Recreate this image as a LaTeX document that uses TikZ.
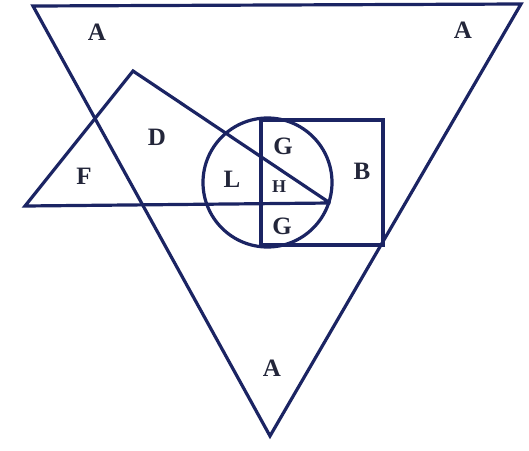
\documentclass[tikz,border=0pt]{standalone}
\usepackage{fontspec}
\setmainfont{Liberation Serif}
\tikzset{
  edge/.style={draw=navy, line width=3.2pt, line join=miter},
  lab/.style={text=labcol, font=\fontsize{25}{25}\selectfont\bfseries, inner sep=0pt},
  smalllab/.style={text=labcol, font=\fontsize{18}{18}\selectfont\bfseries, inner sep=0pt}
}
\definecolor{navy}{HTML}{1B2463}
\definecolor{labcol}{HTML}{23263A}
\begin{document}
\begin{tikzpicture}[x=1pt,y=-1pt]
\useasboundingbox (0,0) rectangle (529,450);
% big triangle A
\coordinate (a1) at (33,6);
\coordinate (a2) at (521,4);
\coordinate (a3) at (270,436);
\draw[edge] (a1) -- (a2) -- (a3) -- cycle;
% triangle F/D
\coordinate (f1) at (25,206);
\coordinate (f2) at (133,71);
\coordinate (f3) at (330,203);
\draw[edge, miter limit=3] (f1) -- (f2) -- (f3) -- cycle;
% circle
\coordinate (c) at (267.5,182.5);
\draw[edge] (c) circle [radius=64.5];
% rectangle B
\coordinate (r1) at (261,120);
\coordinate (r2) at (383,245);
\draw[edge] (r1) rectangle (r2);
% vertical chord
\coordinate (v1) at (261,118.5);
\coordinate (v2) at (261,246.5);
\draw[edge] (v1) -- (v2);
% labels
\node[lab] (la1) at (97,32) {A};
\node[lab] (la2) at (463,30) {A};
\node[lab] (la3) at (272,368) {A};
\node[lab] (ld) at (157,137) {D};
\node[lab] (lf) at (84,176) {F};
\node[lab] (ll) at (232,179) {L};
\node[lab] (lg1) at (283,146) {G};
\node[smalllab] (lh) at (279,187) {H};
\node[lab] (lg2) at (282,226) {G};
\node[lab] (lb) at (362,171) {B};
\end{tikzpicture}
\end{document}
